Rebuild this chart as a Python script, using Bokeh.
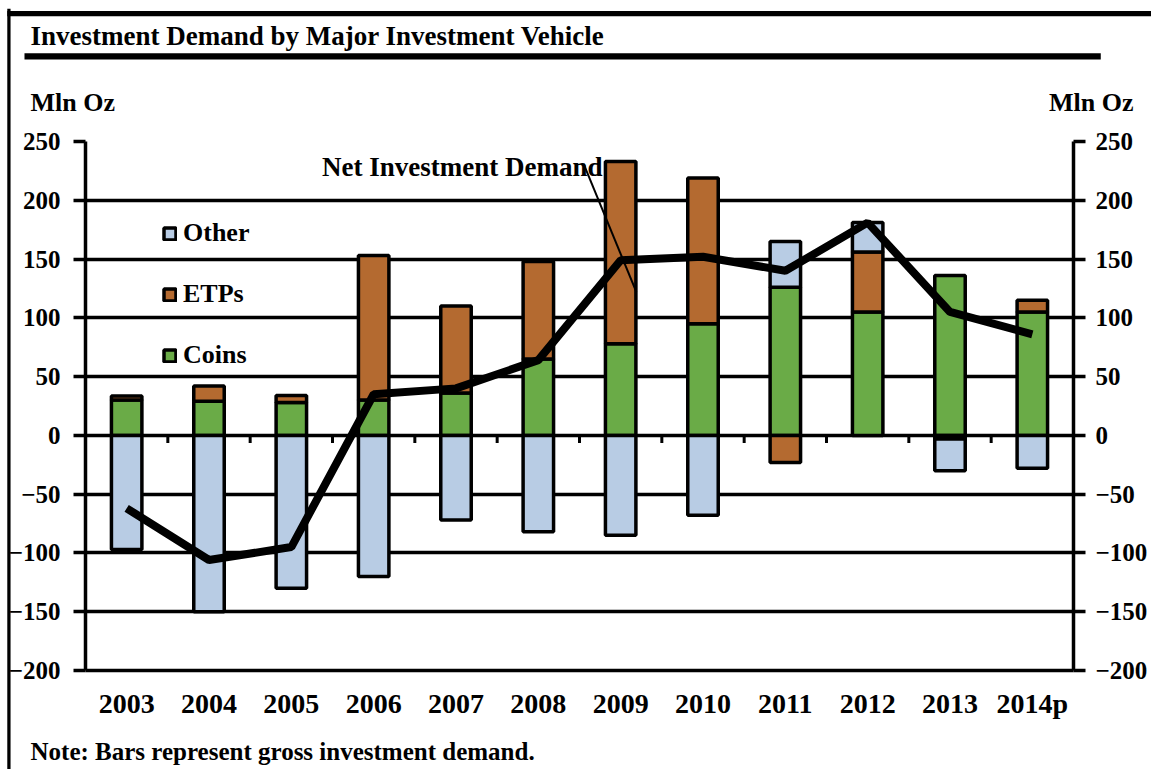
import numpy as np
from bokeh.plotting import figure
from bokeh.models import (ColumnDataSource, Range1d, LinearAxis, FixedTicker,
                          Legend, LegendItem, Label, Arrow)
from bokeh.embed import file_html
from bokeh.resources import INLINE

# ---------------- data ----------------
years = ["2003", "2004", "2005", "2006", "2007", "2008", "2009", "2010",
         "2011", "2012", "2013", "2014p"]
coins = [30, 29, 28, 30, 36, 65, 78, 95, 126, 105, 136, 105]
etps = [3.5, 13, 6, 123, 74, 83, 155, 124, -23, 51, -3, 10]
other = [-97, -150, -130, -120, -72, -82, -85, -68, 39, 25, -27, -28]
net = [-62, -106, -95, 35, 40, 64, 149, 152, 140, 181, 105, 86]

y_ticks = [-200, -150, -100, -50, 0, 50, 100, 150, 200, 250]

FONT = "Liberation Serif"
C_COINS = "#6AAB47"
C_ETPS = "#B46A30"
C_OTHER = "#B8CCE4"

x = np.arange(len(years))

# stacked bottoms/tops (positive and negative separately)
pos = np.zeros(len(years))
neg = np.zeros(len(years))
stacks = {}
for name, vals in (("coins", coins), ("etps", etps), ("other", other)):
    v = np.array(vals, dtype=float)
    bottom = np.where(v >= 0, pos, neg)
    top = bottom + v
    pos = np.where(v >= 0, top, pos)
    neg = np.where(v < 0, top, neg)
    stacks[name] = ColumnDataSource(dict(x=x, bottom=bottom, top=top))

p = figure(width=1151, height=769, output_backend="svg", toolbar_location=None,
           x_range=Range1d(-0.5, len(years) - 0.5), y_range=Range1d(-200, 250),
           min_border_left=85, min_border_right=78, min_border_top=141,
           min_border_bottom=99)
p.outline_line_color = None
p.background_fill_color = "white"
p.border_fill_color = "white"

# grid
p.xgrid.grid_line_color = None
p.ygrid.grid_line_color = "black"
p.ygrid.grid_line_width = 3.5
p.ygrid.ticker = FixedTicker(ticks=y_ticks)

# bottom axis
xa = p.xaxis[0]
xa.ticker = FixedTicker(ticks=list(x))
xa.major_label_overrides = {int(i): y for i, y in zip(x, years)}
xa.major_tick_line_color = None
xa.minor_tick_line_color = None
xa.axis_line_color = "black"
xa.axis_line_width = 3.5
xa.major_label_text_font = FONT
xa.major_label_text_font_style = "bold"
xa.major_label_text_font_size = "28px"
xa.major_label_text_color = "black"
xa.major_label_standoff = 11

def style_y(ax):
    ax.ticker = FixedTicker(ticks=y_ticks)
    ax.axis_line_color = "black"
    ax.axis_line_width = 3.5
    ax.major_tick_line_color = "black"
    ax.major_tick_line_width = 3.5
    ax.major_tick_out = 12
    ax.major_tick_in = 0
    ax.minor_tick_line_color = None
    ax.major_label_text_font = FONT
    ax.major_label_text_font_style = "bold"
    ax.major_label_text_font_size = "25px"
    ax.major_label_text_color = "black"
    ax.major_label_standoff = 13

style_y(p.yaxis[0])
ra = LinearAxis()
style_y(ra)
ra.major_label_standoff = 10
p.add_layout(ra, "right")

# bars
W = 0.37
r_coins = p.vbar(x="x", bottom="bottom", top="top", width=W, source=stacks["coins"],
                 fill_color=C_COINS, line_color="black", line_width=3.5)
r_etps = p.vbar(x="x", bottom="bottom", top="top", width=W, source=stacks["etps"],
                fill_color=C_ETPS, line_color="black", line_width=3.5)
r_other = p.vbar(x="x", bottom="bottom", top="top", width=W, source=stacks["other"],
                 fill_color=C_OTHER, line_color="black", line_width=3.5)

# small ticks on zero line between categories
bx = x[:-1] + 0.5
p.segment(x0=bx, y0=np.zeros(len(bx)), x1=bx, y1=np.full(len(bx), -6.5),
          line_color="black", line_width=3)

# net line
p.line(x=x, y=net, line_color="black", line_width=8)

TXT = dict(text_font=FONT, text_font_style="bold", text_color="black",
           text_baseline="middle")

# annotation for the net line
p.add_layout(Label(x=5.78, y=228.4, text="Net Investment Demand", text_align="right",
                   text_font_size="27px", **TXT))
p.add_layout(Arrow(x_start=5.55, y_start=231, x_end=6.19, y_end=122, end=None,
                   line_color="black", line_width=2))

# legend
legend = Legend(items=[LegendItem(label="Other", renderers=[r_other]),
                       LegendItem(label="ETPs", renderers=[r_etps]),
                       LegendItem(label="Coins", renderers=[r_coins])],
                location="top_left", margin=77, padding=0, spacing=31,
                glyph_width=15, glyph_height=15, label_height=30,
                label_standoff=6, label_text_font=FONT,
                label_text_font_style="bold", label_text_font_size="26px",
                label_text_color="black", background_fill_alpha=0,
                border_line_color=None)
p.add_layout(legend, "center")

# texts outside the frame (placed in side panels so they are not clipped)
p.add_layout(Label(x=-1.168, y=339.4, text="Investment Demand by Major Investment Vehicle",
                   text_font_size="27px", **TXT), "above")
p.add_layout(Label(x=-1.168, y=282.9, text="Mln Oz", text_font_size="26px", **TXT), "above")
p.add_layout(Label(x=12.229, y=282.9, text="Mln Oz", text_align="right",
                   text_font_size="26px", **TXT), "above")
p.add_layout(Label(x=-1.168, y=-268.8, text="Note: Bars represent gross investment demand.",
                   text_font_size="25px", **TXT), "below")


def rule(x0, y0, w, h, side):
    """A solid black strip (padding of an almost empty label), drawn unclipped."""
    p.add_layout(Label(x=x0, y=y0, text=" ", text_font_size="1px", text_align="left",
                       text_baseline="top", background_fill_color="black",
                       background_fill_alpha=1, border_line_color=None,
                       padding=dict(left=0, right=w, top=0, bottom=h)), side)

# title underline and page border
rule(-1.241, 325.0, 1076, 5, "above")
rule(-1.45, 361.0, 1150, 4, "above")
rule(-1.45, 363.0, 3, 770, "left")

open("out.html", "w").write(file_html(p, INLINE))
